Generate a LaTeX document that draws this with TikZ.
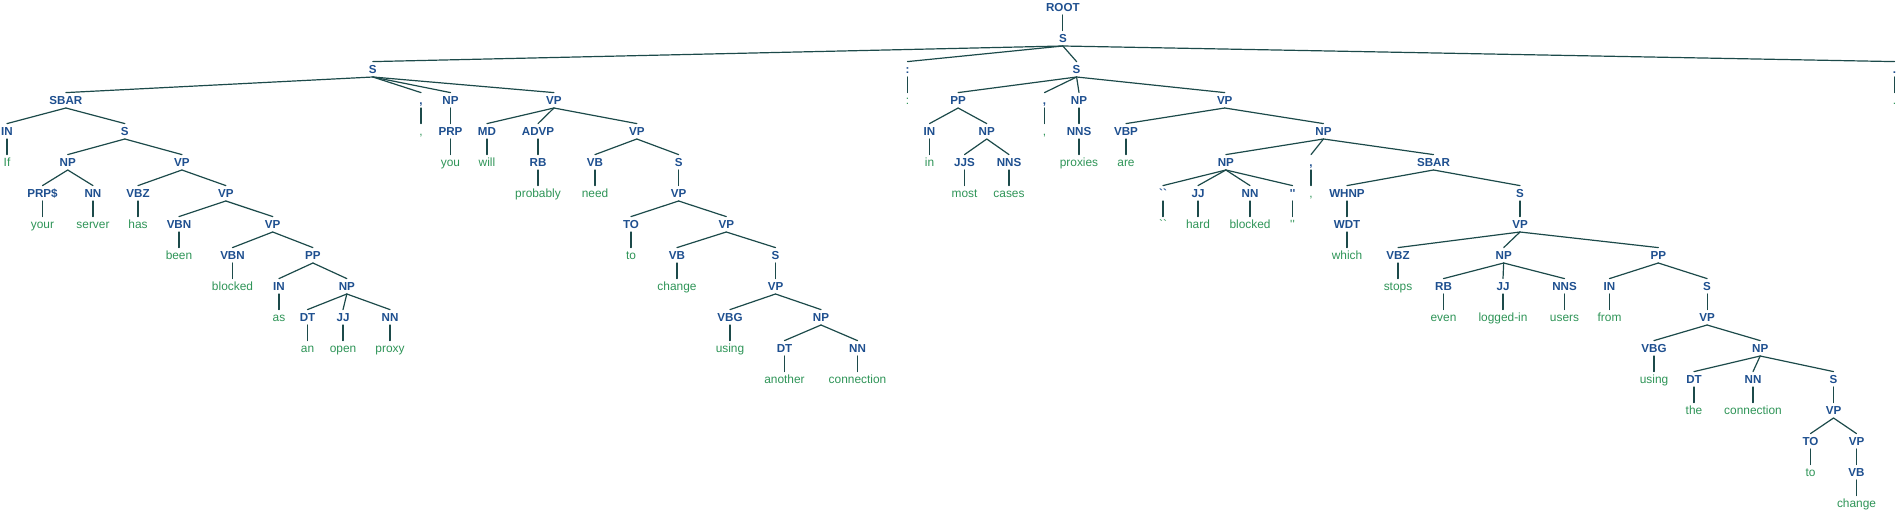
\documentclass[tikz,border=0pt]{standalone}
\usepackage{fontspec}
\setmainfont{Liberation Sans}[Ligatures=TeXOff]

\newlength{\du}
\setlength{\du}{1pt}

\definecolor{tagcolor}{rgb}{0.118000, 0.310000, 0.560000}
\definecolor{wordcolor}{rgb}{0.180000, 0.580000, 0.340000}
\definecolor{branchcolor}{rgb}{0.110000, 0.290000, 0.290000}

\tikzset{
  tagnode/.style={font=\bfseries\fontsize{11.6}{12}\selectfont, text=tagcolor,
    inner sep=0pt, minimum height=15\du, text height=8.3\du, text depth=0pt},
  wordnode/.style={font=\fontsize{11.9}{12}\selectfont, text=wordcolor,
    inner sep=0pt, minimum height=15\du, text height=8.5\du, text depth=0pt},
  branch/.style={draw=branchcolor, line width=1.2\du, line cap=round}
}

\begin{document}
\begin{tikzpicture}
\pgftransformxscale{1.000000}
\pgftransformyscale{-1.000000}
\useasboundingbox (0.000000\du,0.000000\du) rectangle (1901.000000\du,513.000000\du);
% top
\node[tagnode] (root) at (1062.860000\du,7.300000\du){ROOT};
\node[tagnode] (s1) at (1062.860000\du,38.300000\du){S};
% first clause
\node[tagnode] (s2) at (372.840000\du,69.300000\du){S};
\node[tagnode] (sbar3) at (65.920000\du,100.300000\du){SBAR};
\node[tagnode] (in4) at (7.000000\du,131.300000\du){IN};
\node[wordnode] (w1) at (7.000000\du,162.300000\du){If};
\node[tagnode] (s4) at (124.840000\du,131.300000\du){S};
\node[tagnode] (np5) at (67.750000\du,162.300000\du){NP};
\node[tagnode] (prps6) at (42.500000\du,193.300000\du){PRP\$};
\node[wordnode] (w2) at (42.500000\du,224.300000\du){your};
\node[tagnode] (nn6) at (93.000000\du,193.300000\du){NN};
\node[wordnode] (w3) at (93.000000\du,224.300000\du){server};
\node[tagnode] (vp5) at (181.930000\du,162.300000\du){VP};
\node[tagnode] (vbz6) at (138.000000\du,193.300000\du){VBZ};
\node[wordnode] (w4) at (138.000000\du,224.300000\du){has};
\node[tagnode] (vp6) at (225.850000\du,193.300000\du){VP};
\node[tagnode] (vbn7) at (179.000000\du,224.300000\du){VBN};
\node[wordnode] (w5) at (179.000000\du,255.300000\du){been};
\node[tagnode] (vp7) at (272.710000\du,224.300000\du){VP};
\node[tagnode] (vbn8) at (232.500000\du,255.300000\du){VBN};
\node[wordnode] (w6) at (232.500000\du,286.300000\du){blocked};
\node[tagnode] (pp8) at (312.920000\du,255.300000\du){PP};
\node[tagnode] (in9) at (279.000000\du,286.300000\du){IN};
\node[wordnode] (w7) at (279.000000\du,317.300000\du){as};
\node[tagnode] (np9) at (346.830000\du,286.300000\du){NP};
\node[tagnode] (dt10) at (307.500000\du,317.300000\du){DT};
\node[wordnode] (w8) at (307.500000\du,348.300000\du){an};
\node[tagnode] (jj10) at (343.000000\du,317.300000\du){JJ};
\node[wordnode] (w9) at (343.000000\du,348.300000\du){open};
\node[tagnode] (nn10) at (390.000000\du,317.300000\du){NN};
\node[wordnode] (w10) at (390.000000\du,348.300000\du){proxy};
\node[tagnode] (comma3) at (421.000000\du,100.300000\du){,};
\node[wordnode] (w11) at (421.000000\du,131.300000\du){,};
\node[tagnode] (np3) at (450.500000\du,100.300000\du){NP};
\node[tagnode] (prp4) at (450.500000\du,131.300000\du){PRP};
\node[wordnode] (w12) at (450.500000\du,162.300000\du){you};
\node[tagnode] (vp3) at (553.940000\du,100.300000\du){VP};
\node[tagnode] (md4) at (487.000000\du,131.300000\du){MD};
\node[wordnode] (w13) at (487.000000\du,162.300000\du){will};
\node[tagnode] (advp4) at (538.000000\du,131.300000\du){ADVP};
\node[tagnode] (rb5) at (538.000000\du,162.300000\du){RB};
\node[wordnode] (w14) at (538.000000\du,193.300000\du){probably};
\node[tagnode] (vp4) at (636.810000\du,131.300000\du){VP};
\node[tagnode] (vb5) at (595.000000\du,162.300000\du){VB};
\node[wordnode] (w15) at (595.000000\du,193.300000\du){need};
\node[tagnode] (s5) at (678.630000\du,162.300000\du){S};
\node[tagnode] (vp6b) at (678.630000\du,193.300000\du){VP};
\node[tagnode] (to7) at (631.000000\du,224.300000\du){TO};
\node[wordnode] (w16) at (631.000000\du,255.300000\du){to};
\node[tagnode] (vp7b) at (726.250000\du,224.300000\du){VP};
\node[tagnode] (vb8) at (677.000000\du,255.300000\du){VB};
\node[wordnode] (w17) at (677.000000\du,286.300000\du){change};
\node[tagnode] (s8) at (775.500000\du,255.300000\du){S};
\node[tagnode] (vp9) at (775.500000\du,286.300000\du){VP};
\node[tagnode] (vbg10) at (730.000000\du,317.300000\du){VBG};
\node[wordnode] (w18) at (730.000000\du,348.300000\du){using};
\node[tagnode] (np10) at (821.000000\du,317.300000\du){NP};
\node[tagnode] (dt11) at (784.500000\du,348.300000\du){DT};
\node[wordnode] (w19) at (784.500000\du,379.300000\du){another};
\node[tagnode] (nn11) at (857.500000\du,348.300000\du){NN};
\node[wordnode] (w20) at (857.500000\du,379.300000\du){connection};
% colon
\node[tagnode] (colon2) at (907.500000\du,69.300000\du){:};
\node[wordnode] (w21) at (907.500000\du,100.300000\du){:};
% second clause
\node[tagnode] (s2b) at (1076.590000\du,69.300000\du){S};
\node[tagnode] (pp3) at (958.130000\du,100.300000\du){PP};
\node[tagnode] (in4b) at (929.500000\du,131.300000\du){IN};
\node[wordnode] (w22) at (929.500000\du,162.300000\du){in};
\node[tagnode] (np4) at (986.750000\du,131.300000\du){NP};
\node[tagnode] (jjs5) at (964.500000\du,162.300000\du){JJS};
\node[wordnode] (w23) at (964.500000\du,193.300000\du){most};
\node[tagnode] (nns5) at (1009.000000\du,162.300000\du){NNS};
\node[wordnode] (w24) at (1009.000000\du,193.300000\du){cases};
\node[tagnode] (comma3b) at (1044.500000\du,100.300000\du){,};
\node[wordnode] (w25) at (1044.500000\du,131.300000\du){,};
\node[tagnode] (np3b) at (1079.000000\du,100.300000\du){NP};
\node[tagnode] (nns4) at (1079.000000\du,131.300000\du){NNS};
\node[wordnode] (w26) at (1079.000000\du,162.300000\du){proxies};
\node[tagnode] (vp3b) at (1224.730000\du,100.300000\du){VP};
\node[tagnode] (vbp4) at (1126.000000\du,131.300000\du){VBP};
\node[wordnode] (w27) at (1126.000000\du,162.300000\du){are};
\node[tagnode] (np4b) at (1323.460000\du,131.300000\du){NP};
\node[tagnode] (np5b) at (1225.880000\du,162.300000\du){NP};
\node[tagnode] (lq6) at (1163.000000\du,193.300000\du){``};
\node[wordnode] (w28) at (1163.000000\du,224.300000\du){``};
\node[tagnode] (jj6) at (1198.000000\du,193.300000\du){JJ};
\node[wordnode] (w29) at (1198.000000\du,224.300000\du){hard};
\node[tagnode] (nn6b) at (1250.000000\du,193.300000\du){NN};
\node[wordnode] (w30) at (1250.000000\du,224.300000\du){blocked};
\node[tagnode] (rq6) at (1292.500000\du,193.300000\du){''};
\node[wordnode] (w31) at (1292.500000\du,224.300000\du){''};
\node[tagnode] (comma5) at (1311.000000\du,162.300000\du){,};
\node[wordnode] (w32) at (1311.000000\du,193.300000\du){,};
\node[tagnode] (sbar5) at (1433.490000\du,162.300000\du){SBAR};
\node[tagnode] (whnp6) at (1347.000000\du,193.300000\du){WHNP};
\node[tagnode] (wdt7) at (1347.000000\du,224.300000\du){WDT};
\node[wordnode] (w33) at (1347.000000\du,255.300000\du){which};
\node[tagnode] (s6) at (1519.990000\du,193.300000\du){S};
\node[tagnode] (vp7c) at (1519.990000\du,224.300000\du){VP};
\node[tagnode] (vbz8) at (1398.000000\du,255.300000\du){VBZ};
\node[wordnode] (w34) at (1398.000000\du,286.300000\du){stops};
\node[tagnode] (np8) at (1503.670000\du,255.300000\du){NP};
\node[tagnode] (rb9) at (1443.500000\du,286.300000\du){RB};
\node[wordnode] (w35) at (1443.500000\du,317.300000\du){even};
\node[tagnode] (jj9) at (1503.000000\du,286.300000\du){JJ};
\node[wordnode] (w36) at (1503.000000\du,317.300000\du){logged-in};
\node[tagnode] (nns9) at (1564.500000\du,286.300000\du){NNS};
\node[wordnode] (w37) at (1564.500000\du,317.300000\du){users};
\node[tagnode] (pp8b) at (1658.290000\du,255.300000\du){PP};
\node[tagnode] (in9b) at (1609.500000\du,286.300000\du){IN};
\node[wordnode] (w38) at (1609.500000\du,317.300000\du){from};
\node[tagnode] (s9) at (1707.080000\du,286.300000\du){S};
\node[tagnode] (vp10) at (1707.080000\du,317.300000\du){VP};
\node[tagnode] (vbg11) at (1654.000000\du,348.300000\du){VBG};
\node[wordnode] (w39) at (1654.000000\du,379.300000\du){using};
\node[tagnode] (np11) at (1760.170000\du,348.300000\du){NP};
\node[tagnode] (dt12) at (1694.000000\du,379.300000\du){DT};
\node[wordnode] (w40) at (1694.000000\du,410.300000\du){the};
\node[tagnode] (nn12) at (1753.000000\du,379.300000\du){NN};
\node[wordnode] (w41) at (1753.000000\du,410.300000\du){connection};
\node[tagnode] (s12) at (1833.500000\du,379.300000\du){S};
\node[tagnode] (vp13) at (1833.500000\du,410.300000\du){VP};
\node[tagnode] (to14) at (1810.500000\du,441.300000\du){TO};
\node[wordnode] (w42) at (1810.500000\du,472.300000\du){to};
\node[tagnode] (vp14) at (1856.500000\du,441.300000\du){VP};
\node[tagnode] (vb15) at (1856.500000\du,472.300000\du){VB};
\node[wordnode] (w43) at (1856.500000\du,503.300000\du){change};
% period
\node[tagnode] (period2) at (1894.500000\du,69.300000\du){.};
\node[wordnode] (w44) at (1894.500000\du,100.300000\du){.};
% branches
\draw[branch] (root.south)--(s1.north);
\draw[branch] (s1.south)--(s2.north);
\draw[branch] (s1.south)--(colon2.north);
\draw[branch] (s1.south)--(s2b.north);
\draw[branch] (s1.south)--(period2.north);
\draw[branch] (s2.south)--(sbar3.north);
\draw[branch] (s2.south)--(comma3.north);
\draw[branch] (s2.south)--(np3.north);
\draw[branch] (s2.south)--(vp3.north);
\draw[branch] (sbar3.south)--(in4.north);
\draw[branch] (in4.south)--(w1.north);
\draw[branch] (sbar3.south)--(s4.north);
\draw[branch] (s4.south)--(np5.north);
\draw[branch] (s4.south)--(vp5.north);
\draw[branch] (np5.south)--(prps6.north);
\draw[branch] (prps6.south)--(w2.north);
\draw[branch] (np5.south)--(nn6.north);
\draw[branch] (nn6.south)--(w3.north);
\draw[branch] (vp5.south)--(vbz6.north);
\draw[branch] (vbz6.south)--(w4.north);
\draw[branch] (vp5.south)--(vp6.north);
\draw[branch] (vp6.south)--(vbn7.north);
\draw[branch] (vbn7.south)--(w5.north);
\draw[branch] (vp6.south)--(vp7.north);
\draw[branch] (vp7.south)--(vbn8.north);
\draw[branch] (vbn8.south)--(w6.north);
\draw[branch] (vp7.south)--(pp8.north);
\draw[branch] (pp8.south)--(in9.north);
\draw[branch] (in9.south)--(w7.north);
\draw[branch] (pp8.south)--(np9.north);
\draw[branch] (np9.south)--(dt10.north);
\draw[branch] (dt10.south)--(w8.north);
\draw[branch] (np9.south)--(jj10.north);
\draw[branch] (jj10.south)--(w9.north);
\draw[branch] (np9.south)--(nn10.north);
\draw[branch] (nn10.south)--(w10.north);
\draw[branch] (comma3.south)--(w11.north);
\draw[branch] (np3.south)--(prp4.north);
\draw[branch] (prp4.south)--(w12.north);
\draw[branch] (vp3.south)--(md4.north);
\draw[branch] (md4.south)--(w13.north);
\draw[branch] (vp3.south)--(advp4.north);
\draw[branch] (advp4.south)--(rb5.north);
\draw[branch] (rb5.south)--(w14.north);
\draw[branch] (vp3.south)--(vp4.north);
\draw[branch] (vp4.south)--(vb5.north);
\draw[branch] (vb5.south)--(w15.north);
\draw[branch] (vp4.south)--(s5.north);
\draw[branch] (s5.south)--(vp6b.north);
\draw[branch] (vp6b.south)--(to7.north);
\draw[branch] (to7.south)--(w16.north);
\draw[branch] (vp6b.south)--(vp7b.north);
\draw[branch] (vp7b.south)--(vb8.north);
\draw[branch] (vb8.south)--(w17.north);
\draw[branch] (vp7b.south)--(s8.north);
\draw[branch] (s8.south)--(vp9.north);
\draw[branch] (vp9.south)--(vbg10.north);
\draw[branch] (vbg10.south)--(w18.north);
\draw[branch] (vp9.south)--(np10.north);
\draw[branch] (np10.south)--(dt11.north);
\draw[branch] (dt11.south)--(w19.north);
\draw[branch] (np10.south)--(nn11.north);
\draw[branch] (nn11.south)--(w20.north);
\draw[branch] (colon2.south)--(w21.north);
\draw[branch] (s2b.south)--(pp3.north);
\draw[branch] (s2b.south)--(comma3b.north);
\draw[branch] (s2b.south)--(np3b.north);
\draw[branch] (s2b.south)--(vp3b.north);
\draw[branch] (pp3.south)--(in4b.north);
\draw[branch] (in4b.south)--(w22.north);
\draw[branch] (pp3.south)--(np4.north);
\draw[branch] (np4.south)--(jjs5.north);
\draw[branch] (jjs5.south)--(w23.north);
\draw[branch] (np4.south)--(nns5.north);
\draw[branch] (nns5.south)--(w24.north);
\draw[branch] (comma3b.south)--(w25.north);
\draw[branch] (np3b.south)--(nns4.north);
\draw[branch] (nns4.south)--(w26.north);
\draw[branch] (vp3b.south)--(vbp4.north);
\draw[branch] (vbp4.south)--(w27.north);
\draw[branch] (vp3b.south)--(np4b.north);
\draw[branch] (np4b.south)--(np5b.north);
\draw[branch] (np4b.south)--(comma5.north);
\draw[branch] (np4b.south)--(sbar5.north);
\draw[branch] (np5b.south)--(lq6.north);
\draw[branch] (lq6.south)--(w28.north);
\draw[branch] (np5b.south)--(jj6.north);
\draw[branch] (jj6.south)--(w29.north);
\draw[branch] (np5b.south)--(nn6b.north);
\draw[branch] (nn6b.south)--(w30.north);
\draw[branch] (np5b.south)--(rq6.north);
\draw[branch] (rq6.south)--(w31.north);
\draw[branch] (comma5.south)--(w32.north);
\draw[branch] (sbar5.south)--(whnp6.north);
\draw[branch] (whnp6.south)--(wdt7.north);
\draw[branch] (wdt7.south)--(w33.north);
\draw[branch] (sbar5.south)--(s6.north);
\draw[branch] (s6.south)--(vp7c.north);
\draw[branch] (vp7c.south)--(vbz8.north);
\draw[branch] (vbz8.south)--(w34.north);
\draw[branch] (vp7c.south)--(np8.north);
\draw[branch] (np8.south)--(rb9.north);
\draw[branch] (rb9.south)--(w35.north);
\draw[branch] (np8.south)--(jj9.north);
\draw[branch] (jj9.south)--(w36.north);
\draw[branch] (np8.south)--(nns9.north);
\draw[branch] (nns9.south)--(w37.north);
\draw[branch] (vp7c.south)--(pp8b.north);
\draw[branch] (pp8b.south)--(in9b.north);
\draw[branch] (in9b.south)--(w38.north);
\draw[branch] (pp8b.south)--(s9.north);
\draw[branch] (s9.south)--(vp10.north);
\draw[branch] (vp10.south)--(vbg11.north);
\draw[branch] (vbg11.south)--(w39.north);
\draw[branch] (vp10.south)--(np11.north);
\draw[branch] (np11.south)--(dt12.north);
\draw[branch] (dt12.south)--(w40.north);
\draw[branch] (np11.south)--(nn12.north);
\draw[branch] (nn12.south)--(w41.north);
\draw[branch] (np11.south)--(s12.north);
\draw[branch] (s12.south)--(vp13.north);
\draw[branch] (vp13.south)--(to14.north);
\draw[branch] (to14.south)--(w42.north);
\draw[branch] (vp13.south)--(vp14.north);
\draw[branch] (vp14.south)--(vb15.north);
\draw[branch] (vb15.south)--(w43.north);
\draw[branch] (period2.south)--(w44.north);
\end{tikzpicture}
\end{document}
